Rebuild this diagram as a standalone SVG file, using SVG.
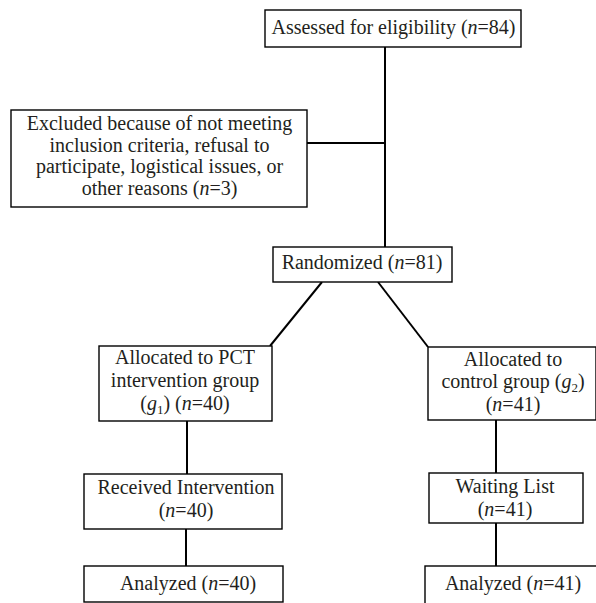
<svg xmlns="http://www.w3.org/2000/svg" width="596" height="603" viewBox="0 0 596 603">
<style>
.box{fill:#fff;stroke:#000;stroke-width:1.4}
.ln{stroke:#000;stroke-width:2;fill:none}
text{font-family:"Liberation Serif","Times New Roman",serif;font-size:20px;fill:#231f20;text-anchor:middle}
.i{font-style:italic}
.sub{font-size:13px}
</style>
<rect width="596" height="603" fill="#fff"/>
<g id="connectors">
<line class="ln" x1="385" y1="47" x2="385" y2="247"/>
<line class="ln" x1="307" y1="143" x2="385" y2="143"/>
<line class="ln" x1="322" y1="282" x2="270" y2="346"/>
<line class="ln" x1="378" y1="282" x2="428" y2="347"/>
<line class="ln" x1="187" y1="421" x2="187" y2="474"/>
<line class="ln" x1="186" y1="529" x2="186" y2="566"/>
<line class="ln" x1="496" y1="420" x2="496" y2="473"/>
<line class="ln" x1="496" y1="523" x2="496" y2="566"/>
</g>
<g id="assessed">
<rect class="box" x="265" y="10" width="256" height="37"/>
<text x="393.5" y="34">Assessed for eligibility (<tspan class="i">n</tspan>=84)</text>
</g>
<g id="excluded">
<rect class="box" x="11" y="110" width="296" height="97"/>
<text x="159.5" y="130">Excluded because of not meeting</text>
<text x="159.5" y="152">inclusion criteria, refusal to</text>
<text x="159.5" y="173">participate, logistical issues, or</text>
<text x="159.5" y="195">other reasons (<tspan class="i">n</tspan>=3)</text>
</g>
<g id="randomized">
<rect class="box" x="273" y="247" width="179" height="35"/>
<text x="362" y="269">Randomized (<tspan class="i">n</tspan>=81)</text>
</g>
<g id="alloc-pct">
<rect class="box" x="99" y="346" width="173" height="75"/>
<text x="185" y="364">Allocated to PCT</text>
<text x="185" y="387">intervention group</text>
<text x="185" y="410">(<tspan class="i">g</tspan><tspan class="sub" dy="4">1</tspan><tspan dy="-4">) (</tspan><tspan class="i">n</tspan>=40)</text>
</g>
<g id="alloc-control">
<rect class="box" x="428" y="347" width="168" height="73"/>
<text x="513" y="366">Allocated to</text>
<text x="513" y="388">control group (<tspan class="i">g</tspan><tspan class="sub" dy="4">2</tspan><tspan dy="-4">)</tspan></text>
<text x="513" y="411">(<tspan class="i">n</tspan>=41)</text>
</g>
<g id="received">
<rect class="box" x="84" y="474" width="198" height="55"/>
<text x="186" y="494">Received Intervention</text>
<text x="186" y="517">(<tspan class="i">n</tspan>=40)</text>
</g>
<g id="analyzed-1">
<rect class="box" x="84" y="566" width="199" height="36"/>
<text x="188" y="590">Analyzed (<tspan class="i">n</tspan>=40)</text>
</g>
<g id="waiting">
<rect class="box" x="429" y="473" width="154" height="50"/>
<text x="505" y="493">Waiting List</text>
<text x="505" y="516">(<tspan class="i">n</tspan>=41)</text>
</g>
<g id="analyzed-2">
<rect class="box" x="425" y="566" width="180" height="45"/>
<text x="513" y="590">Analyzed (<tspan class="i">n</tspan>=41)</text>
</g>
</svg>
